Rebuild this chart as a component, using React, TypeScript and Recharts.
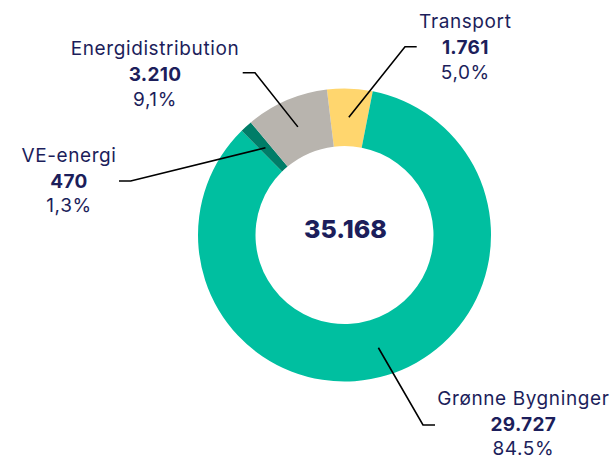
import React from "react";
import { PieChart, Pie, Cell } from "recharts";

const names = ["Transport", "Grønne Bygninger", "VE-energi", "Energidistribution"];
const values = [1761, 29727, 470, 3210];
const valueLabels = ["1.761", "29.727", "470", "3.210"];
const shareLabels = ["5,0%", "84.5%", "1,3%", "9,1%"];
const colors = ["#FFD66E", "#00BFA0", "#007D68", "#B8B4AE"];
const totalLabel = "35.168";

// where each callout sits: elbow of the leader line, end of the short tick, text centre + first baseline
const callouts = [
  { elbowX: 405, elbowY: 46.7, endX: 416.7, textX: 465.3, textY: 28.3 },
  { elbowX: 423, elbowY: 425, endX: 435, textX: 523.3, textY: 404.5 },
  { elbowX: 130.7, elbowY: 181, endX: 119, textX: 69, textY: 161.7 },
  { elbowX: 255, elbowY: 72.7, endX: 242.7, textX: 155, textY: 55 },
];

const data = names.map((name, i) => ({ name, value: values[i] }));

const TEXT = "#1C1E5B";
const FONT = "Inter, 'Noto Sans', sans-serif";
const RADIAN = Math.PI / 180;

const renderCallout = (props: any) => {
  const { cx, cy, midAngle, innerRadius, outerRadius, index } = props;
  const c = callouts[index];
  const r = (innerRadius + outerRadius) / 2;
  const sx = cx + r * Math.cos(-midAngle * RADIAN);
  const sy = cy + r * Math.sin(-midAngle * RADIAN);
  return (
    <g>
      <polyline
        points={`${sx},${sy} ${c.elbowX},${c.elbowY} ${c.endX},${c.elbowY}`}
        fill="none"
        stroke="#000"
        strokeWidth={1.6}
      />
      <text x={c.textX} y={c.textY} textAnchor="middle" fill={TEXT} fontSize={19} letterSpacing={0.6} fontFamily={FONT}>
        {names[index]}
      </text>
      <text x={c.textX} y={c.textY + 26} textAnchor="middle" fill={TEXT} fontSize={19} fontWeight={700} letterSpacing={0.3} fontFamily={FONT}>
        {valueLabels[index]}
      </text>
      <text x={c.textX} y={c.textY + 50.5} textAnchor="middle" fill={TEXT} fontSize={19} letterSpacing={0.6} fontFamily={FONT}>
        {shareLabels[index]}
      </text>
      {index === 0 && (
        <text x={cx + 1} y={cy + 3} textAnchor="middle" fill={TEXT} fontSize={25} fontWeight={800} fontFamily={FONT}>
          {totalLabel}
        </text>
      )}
    </g>
  );
};

export default function App() {
  return (
    <div style={{ position: "absolute", left: 0, top: 0, width: 616, height: 461, background: "#fff" }}>
      <PieChart width={616} height={461} margin={{ top: 0, right: 0, bottom: 0, left: 0 }}>
        <Pie
          data={data}
          dataKey="value"
          nameKey="name"
          cx={344.5}
          cy={235}
          innerRadius={89}
          outerRadius={146.5}
          startAngle={96.9}
          endAngle={-263.1}
          stroke="none"
          label={renderCallout}
          labelLine={false}
          isAnimationActive={false}
        >
          {data.map((entry, index) => (
            <Cell key={`cell-${index}`} fill={colors[index]} />
          ))}
        </Pie>
      </PieChart>
    </div>
  );
}
